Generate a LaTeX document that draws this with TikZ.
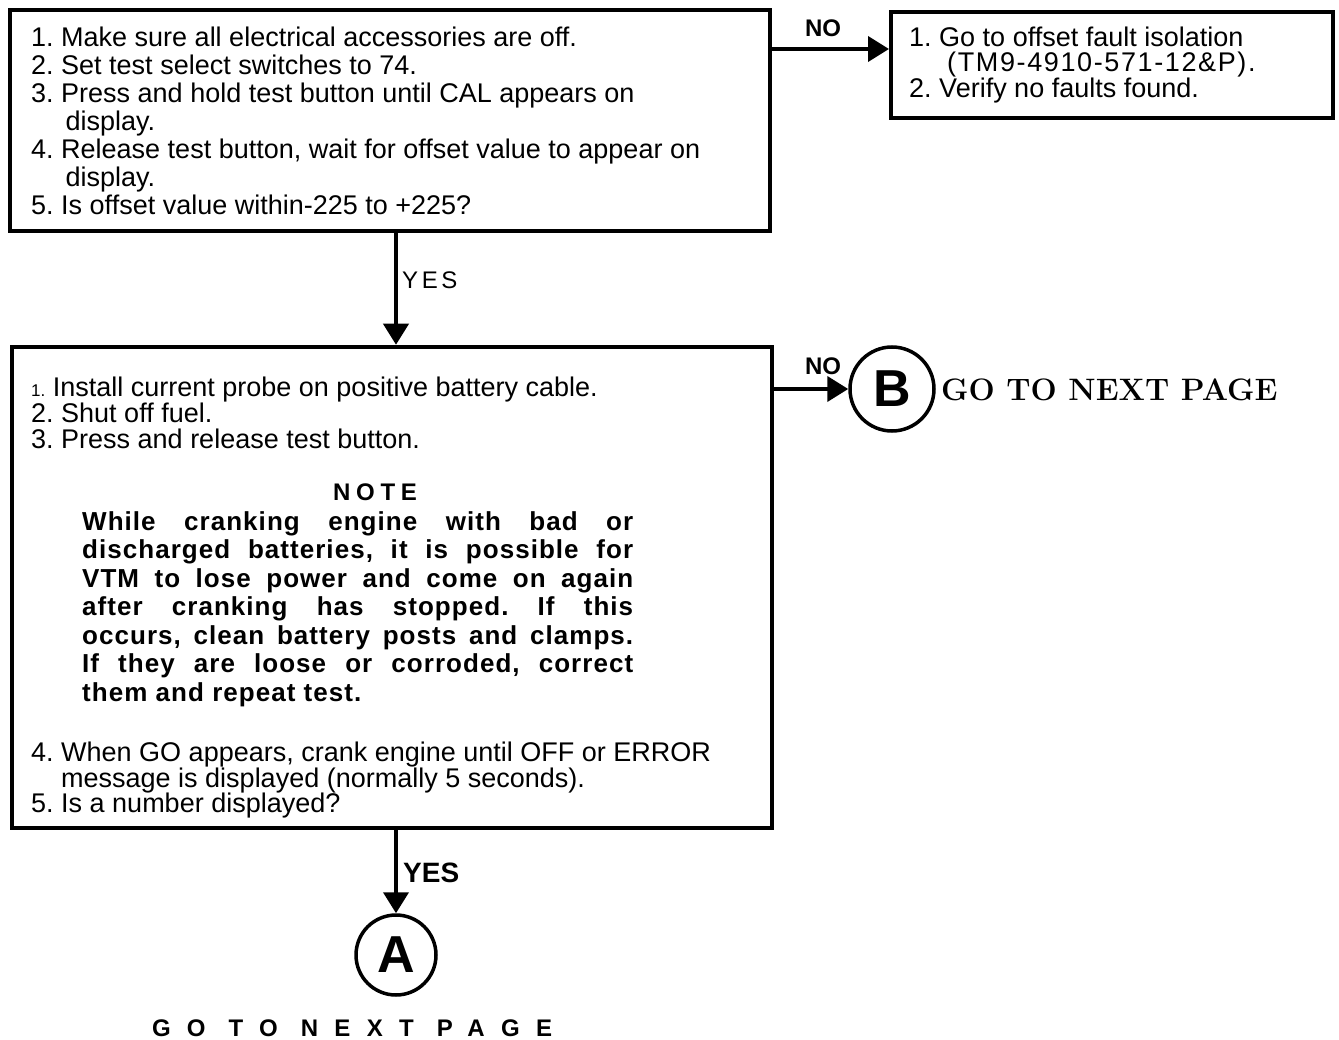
\documentclass[tikz,border=0pt]{standalone}
\usepackage{fontspec}
\newfontfamily\arial{Liberation Sans}
\frenchspacing
\usepackage{tikz}
\usetikzlibrary{arrows.meta,positioning,calc}

\begin{document}
\begin{tikzpicture}[x=1pt, y=-1pt,
  stepbox/.style={draw, line width=4.5pt, inner sep=0pt},
  steptext/.style={anchor=north west, align=left, inner sep=0pt, font=\arial\fontsize{27}{28}\selectfont},
  notetext/.style={anchor=north west, align=left, inner sep=0pt, font=\arial\bfseries\fontsize{26}{28.5}\selectfont\addfontfeatures{LetterSpace=4}},
  flow/.style={line width=4pt, -{Triangle[length=21pt,width=25pt]}},
  answer/.style={inner sep=0pt, font=\arial\bfseries\fontsize{24}{24}\selectfont},
  goto/.style={circle, draw, line width=3.5pt, minimum size=80pt, inner sep=0pt, font=\arial\bfseries\fontsize{52}{52}\selectfont}
]

\def\notew{551pt}

\useasboundingbox (0,0) rectangle (1339,1040);

\node[stepbox, minimum width=760pt, minimum height=221pt] (offset) at (390,120.5) {};
\node[stepbox, minimum width=760pt, minimum height=481pt] (probe) at (392,587.5) {};
\node[stepbox, minimum width=442pt, minimum height=106pt] (fault) at (1112,65) {};

\node[goto] (aconn) at (396,955) {A};
\node[goto, minimum size=84pt] (bconn) at (892,389) {B};

\node[steptext] (offsetlist) at (31,27) {1. Make sure all electrical accessories are off.\\
  2. Set test select switches to 74.\\
  3. Press and hold test button until CAL appears on\\
  \hphantom{3. }\,display.\\
  4. Release test button, wait for offset value to appear on\\
  \hphantom{4. }\,display.\\
  5. Is offset value within-225 to +225?};

\node[steptext, font=\arial\fontsize{27}{25}\selectfont] (faultlist) at (909,27) {1. Go to offset fault isolation\\
  \hspace*{38pt}{\addfontfeatures{LetterSpace=6}(TM9-4910-571-12\&P).}\\
  2. Verify no faults found.};

\node[steptext, font=\arial\fontsize{27}{26}\selectfont] (probelist) at (31,377) {{\fontsize{17}{17}\selectfont 1.} Install current probe on positive battery cable.\\
  2. Shut off fuel.\\
  3. Press and release test button.};

\node[answer, font=\arial\bfseries\fontsize{24}{24}\selectfont\addfontfeatures{LetterSpace=24}] (notehead) at (375,492) {NOTE};

\node[notetext] (notebody) at (82,511) {\makebox[\notew][s]{While cranking engine with bad or}\\
  \makebox[\notew][s]{discharged batteries, it is possible for}\\
  \makebox[\notew][s]{VTM to lose power and come on again}\\
  \makebox[\notew][s]{after cranking has stopped. If this}\\
  \makebox[\notew][s]{occurs, clean battery posts and clamps.}\\
  \makebox[\notew][s]{If they are loose or corroded, correct}\\
  them and repeat test.};

\node[steptext, font=\arial\fontsize{27}{25.5}\selectfont] (crankist) at (31,742) {4. When GO appears, crank engine until OFF or ERROR\\
  \hphantom{4. }message is displayed (normally 5 seconds).\\
  5. Is a number displayed?};

\node[answer] (noA) at (823,28) {NO};
\node[answer] (noB) at (823,366) {NO};
\node[answer, anchor=west, font=\arial\fontsize{24}{24}\selectfont\addfontfeatures{LetterSpace=15}] (yesA) at (402,280) {YES};
\node[answer, anchor=west, font=\arial\bfseries\fontsize{28}{28}\selectfont] (yesB) at (403,873) {YES};

\node[anchor=west, inner sep=0pt, font=\bfseries\fontsize{31}{31}\selectfont] (nextB) at (941,390) {GO TO NEXT PAGE};
\node[inner sep=0pt, font=\arial\bfseries\fontsize{24}{24}\selectfont\addfontfeatures{LetterSpace=68}] (nextA) at (352,1028) {GO TO NEXT PAGE};

\coordinate (faultin) at (889,49);

\draw[flow] (offset.south -| aconn) -- (probe.north -| aconn);
\draw[flow] (probe.south -| aconn) -- (aconn.north);
\draw[flow] (offset.east |- faultin) -- (faultin);
\draw[flow] (probe.east |- bconn) -- (bconn.west);

\end{tikzpicture}
\end{document}
